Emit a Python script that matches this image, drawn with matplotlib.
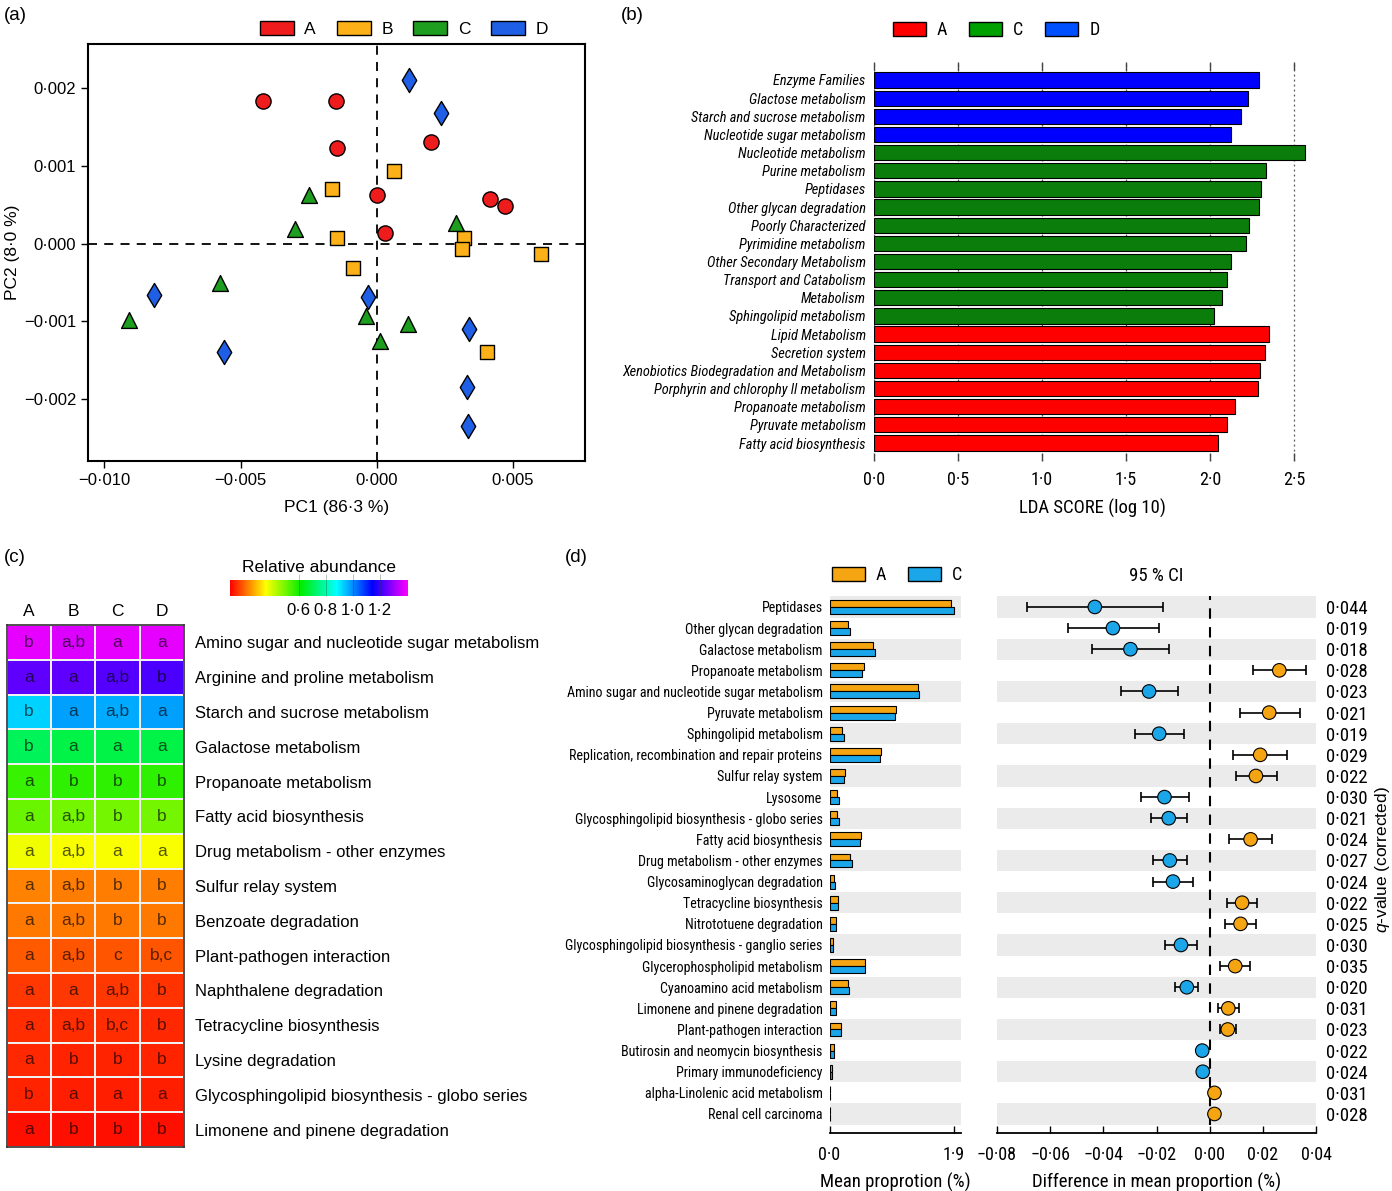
import numpy as np
import matplotlib
matplotlib.use('Agg')
import matplotlib.pyplot as plt
from matplotlib import font_manager
from matplotlib.colors import LinearSegmentedColormap
from matplotlib.patches import Patch
from matplotlib.ticker import FuncFormatter

names = {f.name for f in font_manager.fontManager.ttflist}
REG = 'Liberation Sans' if 'Liberation Sans' in names else 'DejaVu Sans'
narrow_cands = ['Liberation Sans Narrow', 'Arial Narrow', 'Roboto Condensed', 'Archivo Narrow',
                'PT Sans Narrow', 'Open Sans Condensed', 'Fira Sans Condensed']
NAR = next((c for c in narrow_cands if c in names), None)
NS = 1.0
if NAR is None:
    NAR, NS = REG, 0.86      # no condensed face: shrink instead
plt.rcParams['font.family'] = [REG, 'DejaVu Sans']
plt.rcParams['mathtext.fontset'] = 'custom'
plt.rcParams['mathtext.it'] = REG + ':italic'
plt.rcParams['mathtext.rm'] = REG

# ---------------- data ----------------
# (a) PCA scores
a_x = [-0.00416, -0.00151, -0.00145, 0.00200, 0.00000, 0.00416, 0.00471, 0.00031]
a_y = [0.00183, 0.00184, 0.00123, 0.00131, 0.00062, 0.00057, 0.00048, 0.00013]
b_x = [-0.00165, 0.00064, -0.00145, -0.00088, 0.00320, 0.00312, 0.00603, 0.00405]
b_y = [0.00070, 0.00094, 0.00007, -0.00032, 0.00007, -0.00007, -0.00014, -0.00140]
c_x = [-0.00249, -0.00299, -0.00577, -0.00908, -0.00039, 0.00014, 0.00116, 0.00291]
c_y = [0.00063, 0.00019, -0.00051, -0.00099, -0.00093, -0.00126, -0.00104, 0.00026]
d_x = [0.00120, 0.00237, -0.00816, -0.00559, -0.00032, 0.00339, 0.00331, 0.00335]
d_y = [0.00211, 0.00168, -0.00066, -0.00140, -0.00069, -0.00110, -0.00185, -0.00235]

# (b) LEfSe LDA scores
lda_names = ['Enzyme Families', 'Glactose metabolism', 'Starch and sucrose metabolism',
             'Nucleotide sugar metabolism', 'Nucleotide metabolism', 'Purine metabolism',
             'Peptidases', 'Other glycan degradation', 'Poorly Characterized',
             'Pyrimidine metabolism', 'Other Secondary Metabolism', 'Transport and Catabolism',
             'Metabolism', 'Sphingolipid metabolism', 'Lipid Metabolism', 'Secretion system',
             'Xenobiotics Biodegradation and Metabolism', 'Porphyrin and chlorophy ll metabolism',
             'Propanoate metabolism', 'Pyruvate metabolism', 'Fatty acid biosynthesis']
lda_scores = [2.293, 2.227, 2.181, 2.124, 2.563, 2.332, 2.302, 2.293, 2.233, 2.212, 2.127,
              2.100, 2.070, 2.025, 2.353, 2.329, 2.296, 2.287, 2.145, 2.103, 2.049]
lda_groups = ['D'] * 4 + ['C'] * 10 + ['A'] * 7

# (c) heatmap
heat_cols = ['A', 'B', 'C', 'D']
heat_rows = ['Amino sugar and nucleotide sugar metabolism', 'Arginine and proline metabolism',
             'Starch and sucrose metabolism', 'Galactose metabolism', 'Propanoate metabolism',
             'Fatty acid biosynthesis', 'Drug metabolism - other enzymes', 'Sulfur relay system',
             'Benzoate degradation', 'Plant-pathogen interaction', 'Naphthalene degradation',
             'Tetracycline biosynthesis', 'Lysine degradation',
             'Glycosphingolipid biosynthesis - globo series', 'Limonene and pinene degradation']
heat_values = [[1.38, 1.37, 1.38, 1.38],
               [1.24, 1.24, 1.23, 1.22],
               [0.93, 0.98, 0.97, 0.98],
               [0.71, 0.69, 0.69, 0.69],
               [0.56, 0.57, 0.57, 0.57],
               [0.51, 0.50, 0.50, 0.50],
               [0.37, 0.36, 0.36, 0.36],
               [0.225, 0.22, 0.22, 0.22],
               [0.215, 0.215, 0.215, 0.215],
               [0.185, 0.18, 0.18, 0.18],
               [0.15, 0.15, 0.15, 0.145],
               [0.14, 0.14, 0.14, 0.135],
               [0.132, 0.13, 0.13, 0.13],
               [0.128, 0.126, 0.126, 0.126],
               [0.107, 0.107, 0.107, 0.107]]
heat_letters = [['b', 'a,b', 'a', 'a'], ['a', 'a', 'a,b', 'b'], ['b', 'a', 'a,b', 'a'],
                ['b', 'a', 'a', 'a'], ['a', 'b', 'b', 'b'], ['a', 'a,b', 'b', 'b'],
                ['a', 'a,b', 'a', 'a'], ['a', 'a,b', 'b', 'b'], ['a', 'a,b', 'b', 'b'],
                ['a', 'a,b', 'c', 'b,c'], ['a', 'a', 'a,b', 'b'], ['a', 'a,b', 'b,c', 'b'],
                ['a', 'b', 'b', 'b'], ['b', 'a', 'a', 'a'], ['a', 'b', 'b', 'b']]

# (d) STAMP extended error bar
st_names = ['Peptidases', 'Other glycan degradation', 'Galactose metabolism',
            'Propanoate metabolism', 'Amino sugar and nucleotide sugar metabolism',
            'Pyruvate metabolism', 'Sphingolipid metabolism',
            'Replication, recombination and repair proteins', 'Sulfur relay system',
            'Lysosome', 'Glycosphingolipid biosynthesis - globo series',
            'Fatty acid biosynthesis', 'Drug metabolism - other enzymes',
            'Glycosaminoglycan degradation', 'Tetracycline biosynthesis',
            'Nitrototuene degradation', 'Glycosphingolipid biosynthesis - ganglio series',
            'Glycerophospholipid metabolism', 'Cyanoamino acid metabolism',
            'Limonene and pinene degradation', 'Plant-pathogen interaction',
            'Butirosin and neomycin biosynthesis', 'Primary immunodeficiency',
            'alpha-Linolenic acid metabolism', 'Renal cell carcinoma']
st_mean_a = [1.86, 0.28, 0.66, 0.52, 1.35, 1.02, 0.19, 0.79, 0.23, 0.11, 0.12, 0.48, 0.32,
             0.07, 0.13, 0.10, 0.05, 0.54, 0.28, 0.10, 0.17, 0.07, 0.04, 0.01, 0.01]
st_mean_c = [1.90, 0.32, 0.69, 0.50, 1.36, 1.00, 0.22, 0.77, 0.22, 0.14, 0.14, 0.47, 0.34,
             0.08, 0.13, 0.10, 0.06, 0.54, 0.30, 0.10, 0.17, 0.07, 0.04, 0.01, 0.01]
st_diff = [-0.0432, -0.0364, -0.0298, 0.0262, -0.0228, 0.0224, -0.0190, 0.0190, 0.0174,
           -0.0170, -0.0154, 0.0154, -0.0150, -0.0138, 0.0122, 0.0116, -0.0108, 0.0096,
           -0.0086, 0.0070, 0.0068, -0.0028, -0.0026, 0.0018, 0.0018]
st_lo = [-0.0686, -0.0534, -0.0444, 0.0162, -0.0332, 0.0114, -0.0280, 0.0088, 0.0100,
         -0.0260, -0.0220, 0.0074, -0.0214, -0.0212, 0.0066, 0.0058, -0.0168, 0.0040,
         -0.0130, 0.0032, 0.0038, -0.0040, -0.0038, 0.0008, 0.0008]
st_hi = [-0.0176, -0.0192, -0.0152, 0.0362, -0.0120, 0.0338, -0.0098, 0.0292, 0.0252,
         -0.0078, -0.0086, 0.0236, -0.0086, -0.0064, 0.0178, 0.0176, -0.0048, 0.0152,
         -0.0044, 0.0110, 0.0100, -0.0018, -0.0016, 0.0028, 0.0028]
st_q = ['0·044', '0·019', '0·018', '0·028', '0·023', '0·021', '0·019', '0·029', '0·022',
        '0·030', '0·021', '0·024', '0·027', '0·024', '0·022', '0·025', '0·030', '0·035',
        '0·020', '0·031', '0·023', '0·022', '0·024', '0·031', '0·028']

# ---------------- styling ----------------
pca_col = {'A': '#ee1c1c', 'B': '#fbb117', 'C': '#1e9e1e', 'D': '#1f5fe6'}
pca_mark = {'A': 'o', 'B': 's', 'C': '^', 'D': 'd'}
pca_size = {'A': 120, 'B': 115, 'C': 130, 'D': 150}
lda_col = {'A': '#ff0000', 'C': '#0a7d0a', 'D': '#0000ff'}
lda_leg = {'A': '#ff0000', 'C': '#00a000', 'D': '#0050ff'}
st_col = {'A': '#f5a511', 'C': '#1aa6e8'}
rainbow = LinearSegmentedColormap.from_list(
    'rb', ['#ff0000', '#ffff00', '#00ee00', '#00ffff', '#0000ff', '#ff00ff'])


def dotfmt(fmt):
    def f(v, p):
        if abs(v) < 1e-12:
            v = 0.0
        return (fmt % v).replace('.', '·').replace('-', '−')
    return FuncFormatter(f)


W, H = 1392, 1191
fig = plt.figure(figsize=(W / 100, H / 100), dpi=100)


def frac(l, t, r, b):
    return [l / W, 1 - b / H, (r - l) / W, (b - t) / H]


def ftext(x, y, s, **kw):
    fig.text(x / W, 1 - y / H, s, **kw)


for lab, (x, y) in zip(['(a)', '(b)', '(c)', '(d)'],
                       [(4, 16), (621, 16), (4, 557), (565, 557)]):
    ftext(x, y, lab, fontsize=13.5, ha='left', va='center')

# ---------------- (a) PCA ----------------
ax = fig.add_axes(frac(88, 44, 585, 461))
for g, xs, ys in [('A', a_x, a_y), ('B', b_x, b_y), ('C', c_x, c_y), ('D', d_x, d_y)]:
    ax.scatter(xs, ys, marker=pca_mark[g], s=pca_size[g], c=pca_col[g],
               edgecolors='black', linewidths=1.0, zorder=3)
ax.axvline(0, color='black', lw=1.3, ls=(0, (5, 4)), zorder=1)
ax.axhline(0, color='black', lw=1.3, ls=(0, (5, 4)), zorder=1)
ax.set_xlim(-0.0106, 0.00765)
ax.set_ylim(-0.0028, 0.00257)
ax.set_xticks([-0.010, -0.005, 0.0, 0.005])
ax.set_yticks([-0.002, -0.001, 0.0, 0.001, 0.002])
ax.xaxis.set_major_formatter(dotfmt('%.3f'))
ax.yaxis.set_major_formatter(dotfmt('%.3f'))
ax.tick_params(labelsize=12, length=5, width=1)
for s in ax.spines.values():
    s.set_linewidth(1.5)
ax.set_xlabel('PC1 (86·3 %)', fontsize=12.5, labelpad=9)
ax.set_ylabel('PC2 (8·0 %)', fontsize=12.5, labelpad=3)
hnd = [Patch(facecolor=pca_col[g], edgecolor='black', lw=1) for g in 'ABCD']
fig.legend(hnd, list('ABCD'), loc='center', bbox_to_anchor=(404 / W, 1 - 29 / H), ncol=4,
           frameon=False, fontsize=12.5, handlelength=1.95, handleheight=0.9,
           handletextpad=0.6, columnspacing=1.2)

# ---------------- (b) LDA ----------------
ax = fig.add_axes(frac(874, 62, 1311, 461))
yb = np.arange(len(lda_names))
ax.barh(yb, lda_scores, height=0.84, color=[lda_col[g] for g in lda_groups],
        edgecolor='black', linewidth=0.8, zorder=2)
ax.set_xlim(0, 2.6)
ax.set_ylim(len(lda_names) - 1 + 0.99, -0.99)
ax.set_xticks(np.arange(0, 2.51, 0.5))
ax.xaxis.set_major_formatter(dotfmt('%.1f'))
ax.grid(axis='x', ls=(0, (1.5, 2.5)), color='#555555', lw=0.9, zorder=0)
ax.set_axisbelow(True)
ax.set_yticks(yb)
ax.set_yticklabels(lda_names, fontsize=10.4 * NS, fontstyle='italic', family=NAR)
ax.tick_params(axis='y', length=0, pad=6)
ax.tick_params(axis='x', direction='in', length=6, width=1, color='#444444',
               top=True, labelsize=13 * NS, pad=7)
for t in ax.get_xticklabels():
    t.set_family(NAR)
for s in ax.spines.values():
    s.set_visible(False)
ax.set_xlabel('LDA SCORE (log 10)', fontsize=13.5 * NS, family=NAR, labelpad=7)
hnd = [Patch(facecolor=lda_leg[g], edgecolor='black', lw=1) for g in 'ACD']
lg = fig.legend(hnd, list('ACD'), loc='center', bbox_to_anchor=(996 / W, 1 - 30 / H), ncol=3,
                frameon=False, fontsize=13, handlelength=1.85, handleheight=0.85,
                handletextpad=0.6, columnspacing=1.2)
for t in lg.get_texts():
    t.set_family(NAR)

# ---------------- (c) heatmap ----------------
ax = fig.add_axes(frac(7, 625, 184, 1147))
hv = np.array(heat_values)
vmin, vmax = 0.09, 1.41
mesh = ax.pcolormesh(np.arange(len(heat_cols) + 1), np.arange(len(heat_rows) + 1), hv,
                     cmap=rainbow, vmin=vmin, vmax=vmax, edgecolors='#f0f0f0', linewidth=1.2)
ax.set_xlim(0, len(heat_cols))
ax.set_ylim(len(heat_rows), 0)
for i, row in enumerate(heat_letters):
    for j, s in enumerate(row):
        ax.text(j + 0.5, i + 0.5, s, ha='center', va='center', fontsize=12.5,
                color='black', alpha=0.66)
ax.xaxis.tick_top()
ax.set_xticks(np.arange(len(heat_cols)) + 0.5)
ax.set_xticklabels(heat_cols, fontsize=12.5)
ax.yaxis.tick_right()
ax.set_yticks(np.arange(len(heat_rows)) + 0.5)
ax.set_yticklabels(heat_rows, fontsize=12)
ax.tick_params(length=0)
ax.tick_params(axis='y', pad=8)
ax.tick_params(axis='x', pad=4)
for s in ax.spines.values():
    s.set_linewidth(1.2)
    s.set_color('#333333')

cax = fig.add_axes(frac(230, 580, 408, 596))
cb = fig.colorbar(mesh, cax=cax, orientation='horizontal', ticks=[0.6, 0.8, 1.0, 1.2])
cb.outline.set_visible(False)
cax.xaxis.set_major_formatter(dotfmt('%.1f'))
cax.tick_params(direction='in', length=16, width=0.6, color=(0.1, 0.25, 0.1, 0.35),
                labelsize=12, pad=5)
cax.set_title('Relative abundance', fontsize=12.5, pad=6)

# ---------------- (d) STAMP ----------------
n = len(st_names)
yd = np.arange(n)
ylim_d = (n - 1 + 0.9, -0.5)

ax1 = fig.add_axes(frac(829.5, 596.4, 960.6, 1133))
ax2 = fig.add_axes(frac(997, 596.4, 1316, 1133))
for a in (ax1, ax2):
    for i in yd[::2]:
        a.axhspan(i - 0.5, i + 0.5, color='#ebebeb', lw=0, zorder=0)
    a.set_ylim(*ylim_d)
    for k in ('left', 'right', 'top'):
        a.spines[k].set_visible(False)
    a.spines['bottom'].set_linewidth(1.3)
    a.tick_params(axis='x', direction='in', length=5, width=1, labelsize=13 * NS, pad=9)

ax1.barh(yd - 0.165, st_mean_a, height=0.33, color=st_col['A'], edgecolor='black',
         linewidth=0.8, zorder=2)
ax1.barh(yd + 0.165, st_mean_c, height=0.33, color=st_col['C'], edgecolor='black',
         linewidth=0.8, zorder=2)
ax1.set_xlim(0, 2.0)
ax1.set_xticks([0, 1.9])
ax1.xaxis.set_major_formatter(dotfmt('%.1f'))
ax1.set_yticks(yd)
ax1.set_yticklabels(st_names, fontsize=10.05 * NS, family=NAR)
ax1.tick_params(axis='y', length=0, pad=5)
for t in ax1.get_xticklabels():
    t.set_family(NAR)
ax1.set_xlabel('Mean proprotion (%)', fontsize=13.5 * NS, family=NAR, labelpad=7)

dd = np.array(st_diff)
err = [dd - np.array(st_lo), np.array(st_hi) - dd]
ax2.axvline(0, ymin=0.015, ymax=1, color='black', lw=1.5, ls=(0, (5, 4)), zorder=1)
ax2.errorbar(dd, yd, xerr=err, fmt='none', ecolor='black', elinewidth=1.2, capsize=3.5,
             capthick=1.2, zorder=2)
ax2.scatter(dd, yd, s=95, c=[st_col['A'] if v > 0 else st_col['C'] for v in dd],
            edgecolors='black', linewidths=0.8, zorder=3)
ax2.set_xlim(-0.08, 0.04)
ax2.set_xticks(np.arange(-0.08, 0.041, 0.02))
ax2.xaxis.set_major_formatter(dotfmt('%.2f'))
ax2.set_yticks([])
for t in ax2.get_xticklabels():
    t.set_family(NAR)
ax2.set_xlabel('Difference in mean proportion (%)', fontsize=13.5 * NS, family=NAR,
               labelpad=7)

axq = ax2.twinx()
axq.set_ylim(*ylim_d)
axq.set_yticks(yd)
axq.set_yticklabels(st_q, fontsize=13.5 * NS, family=NAR)
axq.tick_params(axis='y', length=0, pad=7)
for s in axq.spines.values():
    s.set_visible(False)

ftext(1156, 576, '95 % CI', fontsize=13.5 * NS, family=NAR, ha='center', va='center')
ftext(1383, 860, r'$q$-value (corrected)', fontsize=12.5, rotation=90, ha='center', va='center')
hnd = [Patch(facecolor=st_col[g], edgecolor='black', lw=1) for g in 'AC']
lg = fig.legend(hnd, ['A', 'C'], loc='center', bbox_to_anchor=(897 / W, 1 - 575 / H), ncol=2,
                frameon=False, fontsize=13, handlelength=1.85, handleheight=0.85,
                handletextpad=0.6, columnspacing=1.2)
for t in lg.get_texts():
    t.set_family(NAR)

fig.savefig('out.png', dpi=100)
